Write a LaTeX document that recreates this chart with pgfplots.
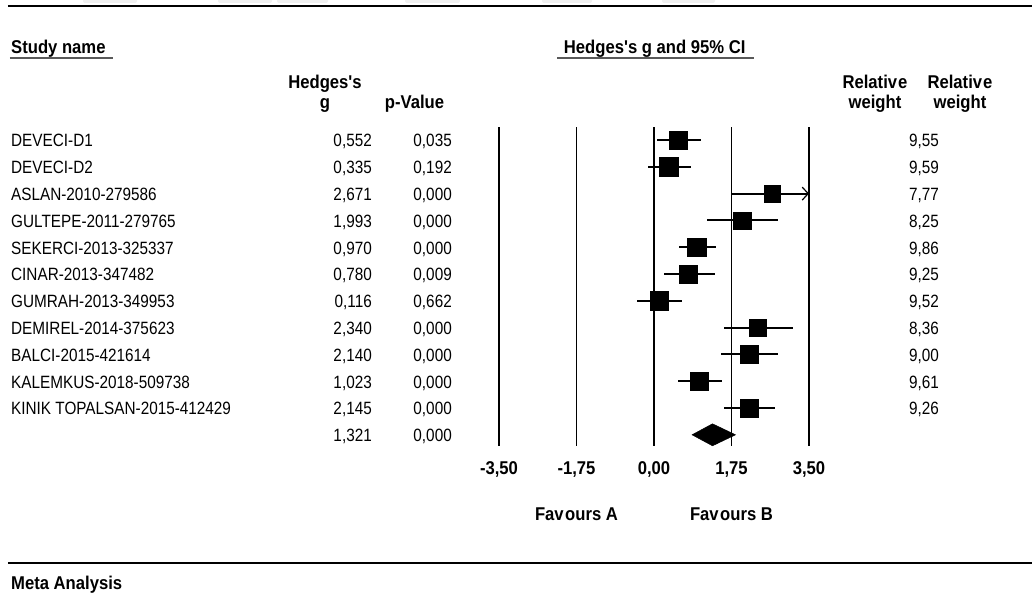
\documentclass[border=0pt]{standalone}
\usepackage{pgfplots}
\pgfplotsset{compat=1.18}
\usepackage{pgfplotstable}
\usetikzlibrary{arrows.meta}
\usepackage{fontspec}
\setmainfont{Liberation Sans}
\newfontfamily\rowf[FakeStretch=0.86]{Liberation Sans}
\newfontfamily\hdf[FakeStretch=0.9]{Liberation Sans}
\newcommand\rowfont{\rowf\fontsize{17.8}{20}\selectfont}
\newcommand\hdfont{\hdf\bfseries\fontsize{18.5}{21}\selectfont}

\pgfplotstableread{
row name g p w lo hi
1 DEVECI-D1 0.552 0.035 9.55 0.06 1.06
2 DEVECI-D2 0.335 0.192 9.59 -0.14 0.835
3 ASLAN-2010-279586 2.671 0.000 7.77 1.76 3.58
4 GULTEPE-2011-279765 1.993 0.000 8.25 1.20 2.81
5 SEKERCI-2013-325337 0.970 0.000 9.86 0.564 1.40
6 CINAR-2013-347482 0.780 0.009 9.25 0.22 1.38
7 GUMRAH-2013-349953 0.116 0.662 9.52 -0.38 0.64
8 DEMIREL-2014-375623 2.340 0.000 8.36 1.57 3.13
9 BALCI-2015-421614 2.140 0.000 9.00 1.51 2.79
10 KALEMKUS-2018-509738 1.023 0.000 9.61 0.54 1.53
11 {KINIK TOPALSAN-2015-412429} 2.145 0.000 9.26 1.58 2.73
}\studies

\pgfplotstableread{
row g p lo hi
12 1.321 0.000 0.86 1.84
}\summary

\begin{document}
\begin{tikzpicture}
\useasboundingbox (0,0) rectangle (1032pt,601pt);
% cut-off toolbar buttons at the top edge
\foreach \a/\b in {83/137,218/272,277/328,405/460,542/592,662/715}{
  \fill[black!6, rounded corners=2pt] (\a pt,598pt) rectangle (\b pt,606pt);
}
\begin{axis}[at={(0,0)}, anchor=south west, scale only axis,
  width=1032pt, height=601pt,
  xmin=-14.766, xmax=8.535, ymin=-4.2239, ymax=18.2015, y dir=reverse,
  hide axis, clip=false]

% reference lines
\addplot[black, line width=1.8pt] coordinates {(-3.5,0.515) (-3.5,12.418)};
\addplot[black, line width=1.8pt] coordinates {(-1.75,0.515) (-1.75,12.418)};
\addplot[black, line width=1.8pt] coordinates {(0,0.515) (0,12.418)};
\addplot[black, line width=1.8pt] coordinates {(1.75,0.515) (1.75,12.418)};
\addplot[black, line width=1.8pt] coordinates {(3.5,0.515) (3.5,12.418)};

% confidence intervals
\addplot[draw=none, mark=none, black,
  error bars/.cd, x dir=both, x explicit, error mark=none,
  error bar style={line width=1.9pt, black}]
  table[x=g, y=row, x error plus expr={min(\thisrow{hi},3.5)-\thisrow{g}},
        x error minus expr={\thisrow{g}-\thisrow{lo}}] {\studies};
% arrow for truncated CI
\addplot[black, line width=1.2pt, -{Straight Barb[length=6pt,width=13pt]}]
  coordinates {(3.2,3) (3.5,3)};

% squares
\addplot[scatter, only marks, mark=square*,
  scatter/use mapped color={draw=black, fill=black},
  visualization depends on={9.4*sqrt(\thisrow{w}/9.86) \as \msize},
  scatter/@pre marker code/.append style={/tikz/mark size=\msize}]
  table[x=g, y=row] {\studies};

% summary diamond
\addplot[black, fill=black, line width=0.5pt] coordinates
  {(0.86,12) (1.321,11.59) (1.84,12) (1.321,12.41)} -- cycle;

% text columns
\addplot[draw=none, mark=none, point meta=explicit symbolic,
  nodes near coords, nodes near coords style={anchor=base west, yshift=-6.8pt, font=\rowfont, inner sep=0pt}]
  table[x expr=-14.518, y=row, meta=name] {\studies};
\addplot[draw=none, mark=none, point meta=\thisrow{g},
  nodes near coords={\pgfmathprintnumber[fixed,fixed zerofill,precision=3,use comma,assume math mode=true]{\pgfplotspointmeta}},
  nodes near coords style={anchor=base east, yshift=-6.8pt, font=\rowfont, inner sep=0pt}]
  table[x expr=-6.367, y=row] {\studies};
\addplot[draw=none, mark=none, point meta=\thisrow{p},
  nodes near coords={\pgfmathprintnumber[fixed,fixed zerofill,precision=3,use comma,assume math mode=true]{\pgfplotspointmeta}},
  nodes near coords style={anchor=base east, yshift=-6.8pt, font=\rowfont, inner sep=0pt}]
  table[x expr=-4.561, y=row] {\studies};
\addplot[draw=none, mark=none, point meta=\thisrow{w},
  nodes near coords={\pgfmathprintnumber[fixed,fixed zerofill,precision=2,use comma,assume math mode=true]{\pgfplotspointmeta}},
  nodes near coords style={anchor=base east, yshift=-6.8pt, font=\rowfont, inner sep=0pt}]
  table[x expr=6.435, y=row] {\studies};
\addplot[draw=none, mark=none, point meta=\thisrow{g},
  nodes near coords={\pgfmathprintnumber[fixed,fixed zerofill,precision=3,use comma,assume math mode=true]{\pgfplotspointmeta}},
  nodes near coords style={anchor=base east, yshift=-6.8pt, font=\rowfont, inner sep=0pt}]
  table[x expr=-6.367, y=row] {\summary};
\addplot[draw=none, mark=none, point meta=\thisrow{p},
  nodes near coords={\pgfmathprintnumber[fixed,fixed zerofill,precision=3,use comma,assume math mode=true]{\pgfplotspointmeta}},
  nodes near coords style={anchor=base east, yshift=-6.8pt, font=\rowfont, inner sep=0pt}]
  table[x expr=-4.561, y=row] {\summary};

% headers
\node[anchor=base west, inner sep=0pt, font=\hdfont] at (axis cs:-14.518,-2.246) {Study name};
\draw[black!65, line width=1.3pt] (axis cs:-14.541,-2.06) -- (axis cs:-12.215,-2.06);
\node[anchor=base, inner sep=0pt, font=\hdfont] at (axis cs:0.016,-2.246) {Hedges's g and 95\% CI};
\draw[black!65, line width=1.3pt] (axis cs:-2.190,-2.06) -- (axis cs:2.258,-2.06);
\node[anchor=base, inner sep=0pt, font=\hdfont] at (axis cs:-7.428,-0.903) {Hedges's};
\node[anchor=base, inner sep=0pt, font=\hdfont] at (axis cs:-7.428,-0.157) {g};
\node[anchor=base, inner sep=0pt, font=\hdfont] at (axis cs:-5.408,-0.157) {p-Value};
\node[anchor=base, inner sep=0pt, font=\hdfont] at (axis cs:4.990,-0.903) {Relativ\kern1pt e};
\node[anchor=base, inner sep=0pt, font=\hdfont] at (axis cs:4.990,-0.157) {weight};
\node[anchor=base, inner sep=0pt, font=\hdfont] at (axis cs:6.909,-0.903) {Relativ\kern1pt e};
\node[anchor=base, inner sep=0pt, font=\hdfont] at (axis cs:6.909,-0.157) {weight};

% tick labels
\node[anchor=base, inner sep=0pt, font=\hdfont] at (axis cs:-3.5,13.463) {-3,50};
\node[anchor=base, inner sep=0pt, font=\hdfont] at (axis cs:-1.75,13.463) {-1,75};
\node[anchor=base, inner sep=0pt, font=\hdfont] at (axis cs:0,13.463) {0,00};
\node[anchor=base, inner sep=0pt, font=\hdfont] at (axis cs:1.75,13.463) {1,75};
\node[anchor=base, inner sep=0pt, font=\hdfont] at (axis cs:3.5,13.463) {3,50};

\node[anchor=base, inner sep=0pt, font=\hdfont] at (axis cs:-1.75,15.216) {Fav\kern1.5pt ours A};
\node[anchor=base, inner sep=0pt, font=\hdfont] at (axis cs:1.75,15.216) {Fav\kern1.5pt ours B};

% rules
\draw[black, line width=2.5pt] (axis cs:-14.586,-4.0) -- (axis cs:8.535,-4.0);
\draw[black, line width=2.5pt] (axis cs:-14.586,16.78) -- (axis cs:8.535,16.78);
\node[anchor=base west, inner sep=0pt, font=\hdfont] at (axis cs:-14.518,17.79) {Meta Analysis};
\end{axis}
\end{tikzpicture}
\end{document}
